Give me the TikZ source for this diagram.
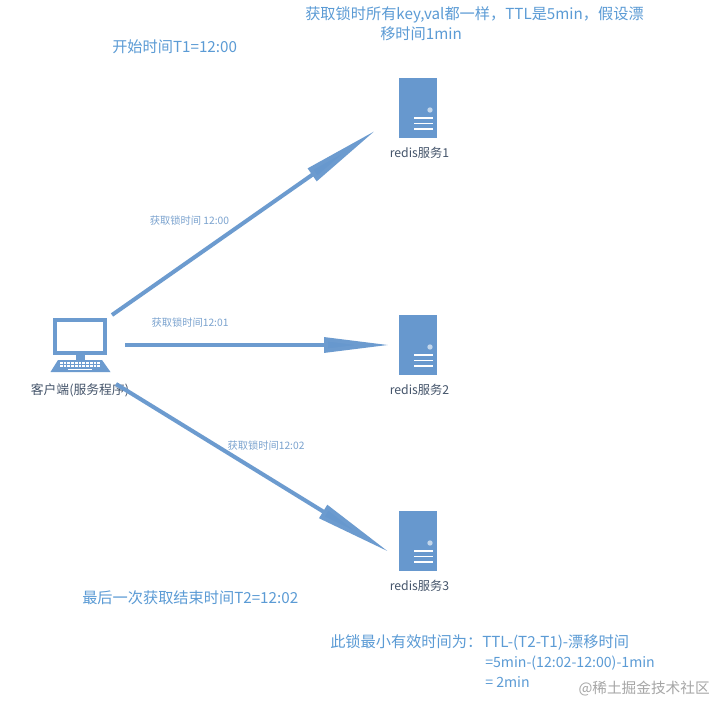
\documentclass[tikz,border=0pt]{standalone}
\usepackage{fontspec}
\setmainfont{Noto Sans CJK SC}
\usetikzlibrary{arrows.meta}
\definecolor{blu}{HTML}{6C9BCF}
\definecolor{srv}{HTML}{6798CE}
\definecolor{txt}{HTML}{5B9BD5}
\definecolor{dark}{HTML}{44546A}
\definecolor{lab}{HTML}{7BA3CF}
\tikzset{
  link/.style={draw=blu,line width=3pt,-{Triangle[length=#1,width=11pt,fill=srv]}},
  big/.style={text=txt,font=\fontsize{11.4}{14}\selectfont,inner sep=0pt,align=left},
  small/.style={text=lab,font=\fontsize{7.7}{9}\selectfont,inner sep=0pt},
  captxt/.style={text=dark,font=\fontsize{9.2}{11}\selectfont,inner sep=0pt},
}
\newcommand{\serverat}[3]{%
  \coordinate (#1) at (#2,#3);
  \fill[srv] (#2-20,#3-25) rectangle (#2+18,#3+35);
  \fill[white!60!srv] (#2+11,#3+7) circle (2.7);
  \foreach \d in {14,19.5,25}{\fill[white] (#2-5,#3+\d) rectangle (#2+14,#3+\d+1.6);}
}
\begin{document}
\begin{tikzpicture}[x=0.75pt,y=-0.75pt]
\useasboundingbox (0,0) rectangle (715,703);
\fill[white] (0,0) rectangle (715,703);
% servers
\serverat{s1}{419}{103}
\serverat{s2}{419}{340}
\serverat{s3}{419}{536}
\node[captxt] (c1) at (419.5,153) {redis服务1};
\node[captxt] (c2) at (419.5,390) {redis服务2};
\node[captxt] (c3) at (419.5,586) {redis服务3};
% client computer
\coordinate (pc) at (80,350);
\fill[blu] (53,318) rectangle (107,354.5);
\fill[white] (57,322) rectangle (103,350.5);
\fill[blu] (75.5,354) rectangle (85,361);
\fill[blu] (50.5,372) -- (58,360) -- (102,360) -- (110.5,372) -- cycle;
\foreach \y in {363,366}{\draw[white,line width=1pt,dash pattern=on 2pt off 0.8pt] (60,\y) -- (101,\y);}
\draw[white,line width=1pt] (68,369.3) -- (92,369.3);
\node[captxt,font=\fontsize{9.6}{11}\selectfont] (c0) at (80,390) {客户端(服务程序)};
% connectors
\coordinate (a1) at (112,315);
\coordinate (b1) at (375.5,130.5);
\coordinate (a2) at (125,345);
\coordinate (b2) at (389.5,345);
\coordinate (a3) at (116,384);
\coordinate (b3) at (389,552);
\draw[link=58pt] (a1) -- (b1);
\draw[link=49pt] (a2) -- (b2);
\draw[link=58pt] (a3) -- (b3);
% labels
\node[small] (l1) at (189.5,221) {获取锁时间 12:00};
\node[small] (l2) at (190,323) {获取锁时间12:01};
\node[small] (l3) at (266,446) {获取锁时间12:02};
\node[big,anchor=west] (t1) at (112,47) {开始时间T1=12:00};
\node[big,anchor=west] (t2) at (305,15) {获取锁时所有key,val都一样，TTL是5min，假设漂};
\node[big,anchor=west] (t2b) at (380,34) {移时间1min};
\node[big,anchor=west] (t3) at (82,598) {最后一次获取结束时间T2=12:02};
\node[big,anchor=west] (t4) at (330,642.5) {此锁最小有效时间为：TTL-(T2-T1)-漂移时间};
\node[big,anchor=west,font=\fontsize{10.6}{13}\selectfont] (t5) at (485,663) {=5min-(12:02-12:00)-1min};
\node[big,anchor=west,font=\fontsize{10.6}{13}\selectfont] (t6) at (485,682) {= 2min};
\node[text=gray!70,font=\fontsize{11}{13}\selectfont,inner sep=0pt,anchor=east] (wm) at (710,689) {@稀土掘金技术社区};
\end{tikzpicture}
\end{document}
